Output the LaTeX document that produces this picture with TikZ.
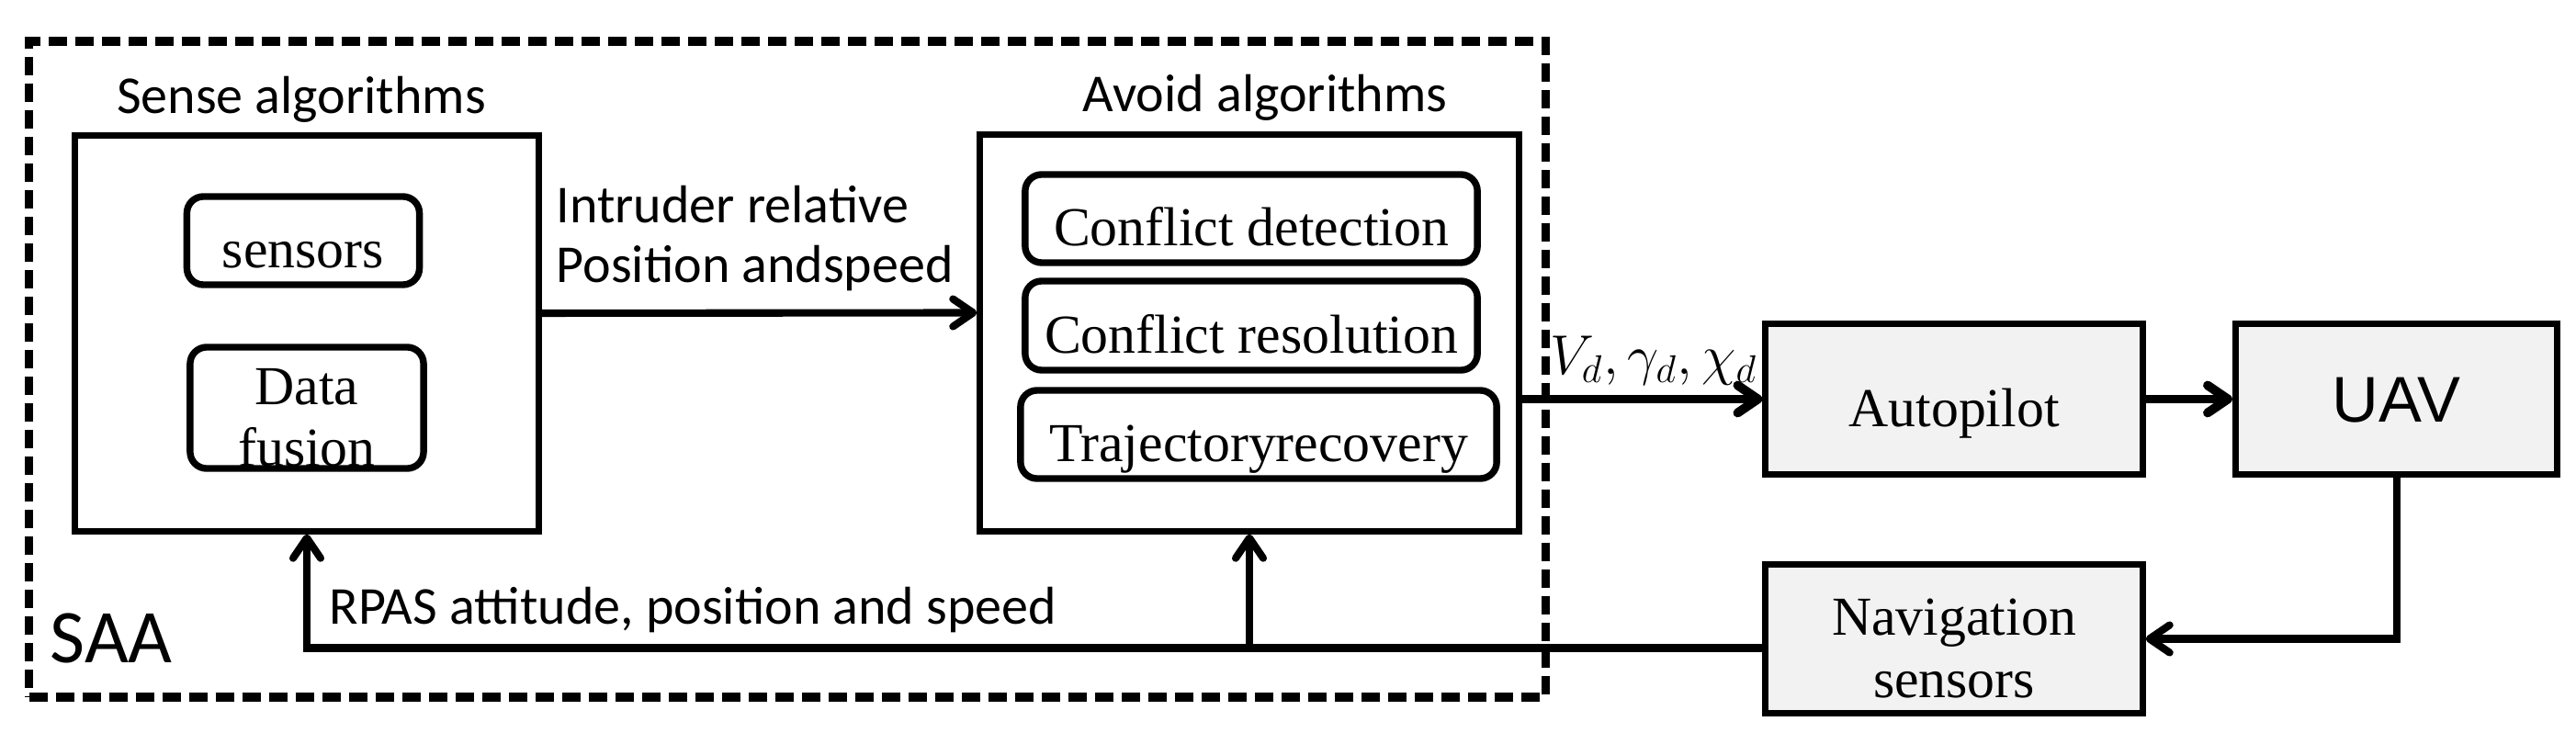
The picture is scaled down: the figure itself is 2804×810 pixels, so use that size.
\documentclass[tikz,border=0pt]{standalone}
\usepackage{fontspec}
\setmainfont{Liberation Serif}
\newfontfamily\labelfont{Carlito}
\newfontfamily\uavfont{Liberation Sans}
\usetikzlibrary{arrows.meta}
\definecolor{boxgray}{HTML}{F2F2F2}

\begin{document}
\begin{tikzpicture}[>={Straight Barb[length=0.22cm,width=0.3cm,round]}, x=0.01cm, y=-0.01cm,
	algbox/.style={draw, line width=2pt, inner sep=0pt},
	subbox/.style={draw, line width=2.1pt, rounded corners=0.18cm, inner sep=0pt, text height=17pt, text depth=0pt, font=\fontsize{17}{19}\selectfont},
	plantbox/.style={draw, fill=boxgray, line width=2pt, inner sep=0pt, minimum width=4.1cm, text height=17pt, text depth=0pt, font=\fontsize{17}{19.3}\selectfont},
	lbl/.style={inner sep=0pt, font=\labelfont\fontsize{16.5}{18.5}\selectfont},
	flow/.style={->, line width=2.3pt}]
			%%%	Help Lines
%			\draw [thin, help lines] (0,0) grid[step=100] (2804,810);
			\useasboundingbox (0,0) rectangle (2804,810);
			%%%	Blocchi
			\node[draw, dash pattern=on 0.2cm off 0.09cm, line width=2.8pt, minimum width=16.5cm, minimum height=7.14cm] (saa) at (857,402) {};
			\node[algbox, minimum width=5.05cm, minimum height=4.3cm] (sense) at (334,363) {};
			\node[algbox, minimum width=5.86cm, minimum height=4.31cm] (avoid) at (1360,362.5) {};
			\node[subbox, minimum width=2.53cm, minimum height=0.96cm] (sensors) at (330,262) {sensors};
			\node[subbox, minimum width=2.54cm, minimum height=1.32cm, align=center, text height=36pt] (fusion) at (334,444) {Data\\fusion};
			\node[subbox, minimum width=4.92cm, minimum height=0.96cm] (detect) at (1362,238) {Conflict detection};
			\node[subbox, minimum width=4.92cm, minimum height=0.97cm] (resolve) at (1362,354.5) {Conflict resolution};
			\node[subbox, minimum width=5.18cm, minimum height=0.96cm] (recover) at (1370,473) {Trajectoryrecovery};
			\node[plantbox, minimum height=1.63cm] (autopilot) at (2127,434.5) {Autopilot};
			\node[plantbox, minimum width=3.5cm, minimum height=1.63cm, text height=14.5pt, font=\uavfont\fontsize{20}{24}\selectfont] (uav) at (2608.5,434.5) {UAV};
			\node[plantbox, minimum height=1.61cm, align=center, text height=36.3pt] (nav) at (2127,695.5) {Navigation\\sensors};
			%%%	Etichette
			\node[lbl] (senselbl) at (328,108) {Sense algorithms};
			\node[lbl] (avoidlbl) at (1377,106) {Avoid algorithms};
			\node[lbl, anchor=south west, align=left] (intruder) at (605,318) {Intruder relative\\Position andspeed};
			\node[lbl, anchor=west] (rpas) at (358,664) {RPAS attitude, position and speed};
			\node[lbl, anchor=west, font=\labelfont\fontsize{23.5}{26}\selectfont] (saalbl) at (54,695) {SAA};
			\node[inner sep=0pt, anchor=south, font=\fontsize{17}{19}\selectfont] (cmd) at (1800,420) {$V_d,\gamma_d,\chi_d$};
			%%%	Frecce
			\coordinate (fb) at ([yshift=-0.1cm]nav.west);
			\draw[flow] ([yshift=0.22cm]sense.east) -- ([yshift=0.22cm]avoid.west);
			\draw[flow, line width=2.8pt] (avoid.east |- autopilot.west) -- (autopilot.west);
			\draw[flow, line width=2.8pt] (autopilot.east) -- (uav.west);
			\draw[flow] (uav.south) |- (nav.east);
			\draw[flow] (fb) -| (sense.south);
			\draw[flow] (avoid.south |- fb) -- (avoid.south);
		\end{tikzpicture}
\end{document}
